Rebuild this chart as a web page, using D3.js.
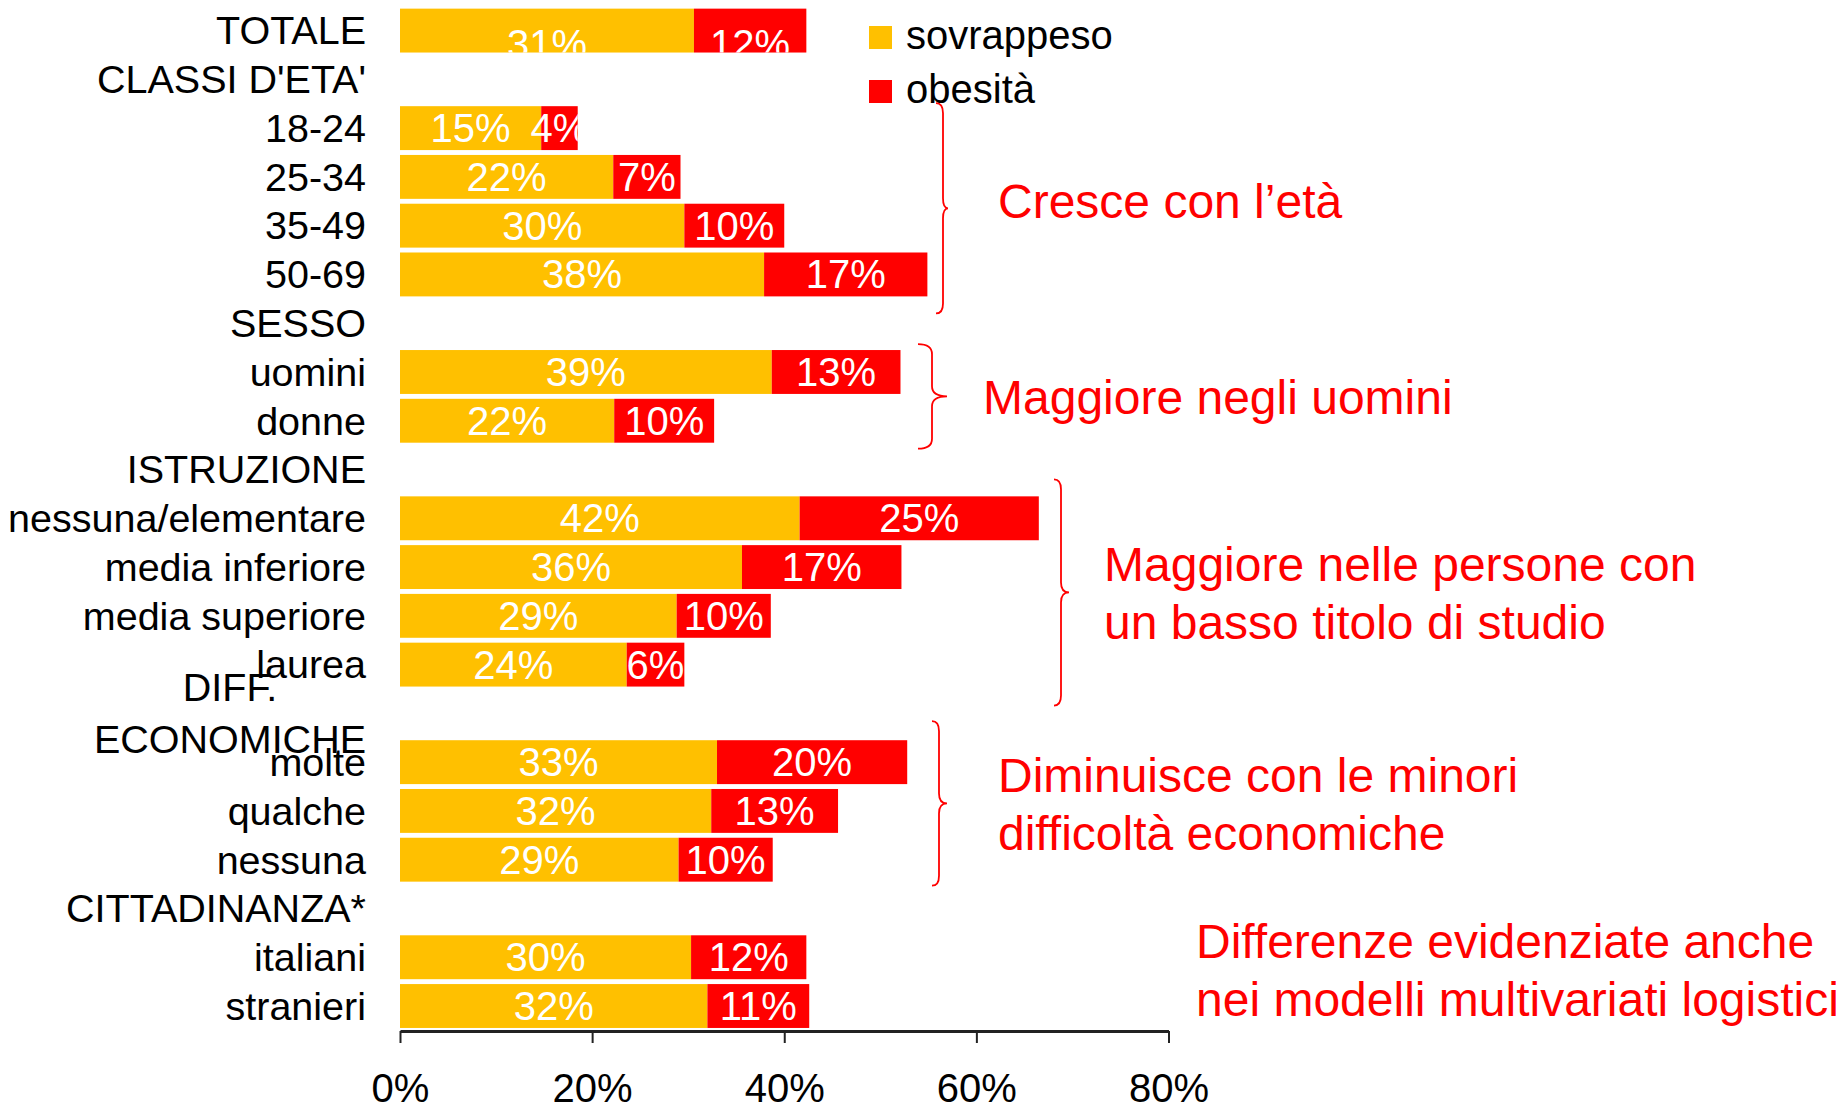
<html>
<head>
  <title>Sovrappeso e obesità</title>
  <script src="https://d3js.org/d3.v7.min.js"></script>
  <style>
    body { margin: 0; background: #fff; }
    text { font-family: "Liberation Sans", Arial, sans-serif; }
  </style>
</head>
<body>
  <svg id="chart" width="1845" height="1107"></svg>
  <script>

    // rows of the chart, top to bottom (header rows have no bars)
    const rowLabels = ["TOTALE", "CLASSI D'ETA'", "18-24", "25-34", "35-49", "50-69",
                       "SESSO", "uomini", "donne",
                       "ISTRUZIONE", "nessuna/elementare", "media inferiore", "media superiore", "laurea",
                       "DIFF. ECONOMICHE", "molte", "qualche", "nessuna",
                       "CITTADINANZA*", "italiani", "stranieri"];
    const sovrappeso = [30.6, null, 14.7, 22.2, 29.6, 37.9,
                        null, 38.7, 22.3,
                        null, 41.6, 35.6, 28.8, 23.6,
                        null, 33.0, 32.4, 29.0,
                        null, 30.3, 32.0];
    const obesita = [11.7, null, 3.8, 7.0, 10.4, 17.0,
                     null, 13.4, 10.4,
                     null, 24.9, 16.6, 9.8, 6.0,
                     null, 19.8, 13.2, 9.8,
                     null, 12.0, 10.6];
    const seriesNames = ["sovrappeso", "obesità"];
    const seriesColors = ["#FFC000", "#FF0000"];
    const xTicks = [0, 20, 40, 60, 80];

    // annotations: rows the brace spans, and the text next to it
    const notes = [
      { from: "18-24", to: "50-69", lines: ["Cresce con l’età"] },
      { from: "uomini", to: "donne", lines: ["Maggiore negli uomini"] },
      { from: "nessuna/elementare", to: "laurea", lines: ["Maggiore nelle persone con", "un basso titolo di studio"] },
      { from: "molte", to: "nessuna", lines: ["Diminuisce con le minori", "difficoltà economiche"] },
      { from: null, to: null, lines: ["Differenze evidenziate anche", "nei modelli multivariati logistici"] }
    ];

    const svg = d3.select("#chart");
    const labelRight = 366;
    const fontSize = 40;
    const catSize = 39.5;

    const xScale = d3.scaleLinear().domain([0, 80]).range([400, 1168.5]);
    const yScale = d3.scaleBand().domain(d3.range(rowLabels.length))
                     .range([6.2, 1030.4]).paddingInner(0.1).paddingOuter(0.05);
    const bw = yScale.bandwidth();

    // x axis
    const xAxis = d3.axisBottom(xScale).tickValues(xTicks).tickSize(12).tickSizeOuter(0)
                    .tickPadding(31).tickFormat(d => d + "%");
    const axisG = svg.append("g").attr("transform", "translate(0,1031)").call(xAxis);
    axisG.select(".domain").attr("stroke", "#222").attr("stroke-width", 3);
    axisG.selectAll(".tick line").attr("stroke", "#222").attr("stroke-width", 2);
    axisG.selectAll(".tick text").attr("font-size", fontSize).attr("fill", "#000")
         .style("font-family", "'Liberation Sans', Arial, sans-serif");

    // stacked bars
    const rows = rowLabels.map((label, i) => ({ i: i, label: label, s: sovrappeso[i], o: obesita[i] }));
    const barRows = rows.filter(d => d.s !== null);

    const defs = svg.append("defs");
    barRows.forEach(d => {
      defs.append("clipPath").attr("id", "clip" + d.i)
          .append("rect")
          .attr("x", xScale(0)).attr("y", yScale(d.i))
          .attr("width", xScale(d.s + d.o) - xScale(0)).attr("height", bw);
    });

    const barG = svg.append("g");
    barRows.forEach(d => {
      const segs = [
        { x0: 0, x1: d.s, v: d.s, c: seriesColors[0] },
        { x0: d.s, x1: d.s + d.o, v: d.o, c: seriesColors[1] }
      ];
      const g = barG.append("g");
      g.selectAll("rect").data(segs).join("rect")
       .attr("x", s => xScale(s.x0))
       .attr("y", yScale(d.i))
       .attr("width", s => xScale(s.x1) - xScale(s.x0))
       .attr("height", bw)
       .attr("fill", s => s.c);
      // the labels of the first row sit low and get cut by the bar, as in the original
      const shift = d.i === 0 ? 13 : 0;
      g.append("g").attr("clip-path", "url(#clip" + d.i + ")")
       .selectAll("text").data(segs).join("text")
       .attr("x", s => (xScale(s.x0) + xScale(s.x1)) / 2)
       .attr("y", yScale(d.i) + bw / 2 + shift)
       .attr("dy", "0.35em")
       .attr("text-anchor", "middle")
       .attr("font-size", fontSize)
       .attr("fill", "#fff")
       .text(s => Math.round(s.v) + "%");
    });

    // row labels (long header labels wrap on two lines, centred on each other)
    const labelG = svg.append("g");
    rows.forEach(d => {
      const cy = yScale(d.i) + bw / 2;
      const t = labelG.append("text").attr("x", labelRight).attr("y", cy).attr("dy", "0.35em")
                      .attr("text-anchor", "end").attr("font-size", catSize).attr("fill", "#000")
                      .text(d.label);
      if (d.label.indexOf(" ") > 0 && t.node().getComputedTextLength() > 345) {
        t.remove();
        const words = d.label.split(" ");
        const lh = 52;
        const ts = words.map((w, k) => labelG.append("text")
                      .attr("y", cy + (k - (words.length - 1) / 2) * lh).attr("dy", "0.35em")
                      .attr("text-anchor", "end").attr("font-size", catSize).attr("fill", "#000")
                      .text(w));
        const widths = ts.map(s => s.node().getComputedTextLength());
        const maxW = d3.max(widths);
        ts.forEach((s, k) => s.attr("x", labelRight - (maxW - widths[k]) / 2));
      }
    });

    // legend
    const legend = svg.append("g").attr("transform", "translate(869,26)");
    seriesNames.forEach((name, k) => {
      legend.append("rect").attr("x", 0).attr("y", k * 54).attr("width", 23).attr("height", 23)
            .attr("fill", seriesColors[k]);
      legend.append("text").attr("x", 37).attr("y", k * 54 + 23).attr("font-size", fontSize)
            .attr("fill", "#000").text(name);
    });

    // braces and red comments
    const bracePath = (xl, top, bottom, depth, tip) => {
      const mid = (top + bottom) / 2;
      const xv = xl + depth;
      const r = 10;
      return "M" + xl + "," + top +
             " Q" + xv + "," + top + " " + xv + "," + (top + r) +
             " L" + xv + "," + (mid - r) +
             " Q" + xv + "," + mid + " " + (xv + tip) + "," + mid +
             " Q" + xv + "," + mid + " " + xv + "," + (mid + r) +
             " L" + xv + "," + (bottom - r) +
             " Q" + xv + "," + bottom + " " + xl + "," + bottom;
    };
    // brace placement: x of brace, extra above/below the rows, x and baseline of text
    const notePlace = [
      { bx: 936, up: 3, down: 17, depth: 7, tip: 5, tx: 998, ty: 218 },
      { bx: 918, up: 6, down: 6, depth: 14, tip: 15, tx: 983, ty: 414 },
      { bx: 1054, up: 17, down: 19, depth: 7, tip: 8, tx: 1104, ty: 581 },
      { bx: 932, up: 19, down: 4, depth: 7, tip: 8, tx: 998, ty: 792 },
      { bx: null, tx: 1196, ty: 958 }
    ];
    const noteG = svg.append("g");
    notes.forEach((n, k) => {
      const p = notePlace[k];
      if (n.from !== null) {
        const top = yScale(rowLabels.indexOf(n.from)) - p.up;
        const bottom = yScale(rowLabels.indexOf(n.to)) + bw + p.down;
        noteG.append("path").attr("d", bracePath(p.bx, top, bottom, p.depth, p.tip))
             .attr("fill", "none").attr("stroke", "#FF0000").attr("stroke-width", 1.8);
      }
      n.lines.forEach((line, j) => {
        noteG.append("text").attr("x", p.tx).attr("y", p.ty + j * 58)
             .attr("font-size", 48).attr("fill", "#FF0000").text(line);
      });
    });

  </script>
</body>
</html>
